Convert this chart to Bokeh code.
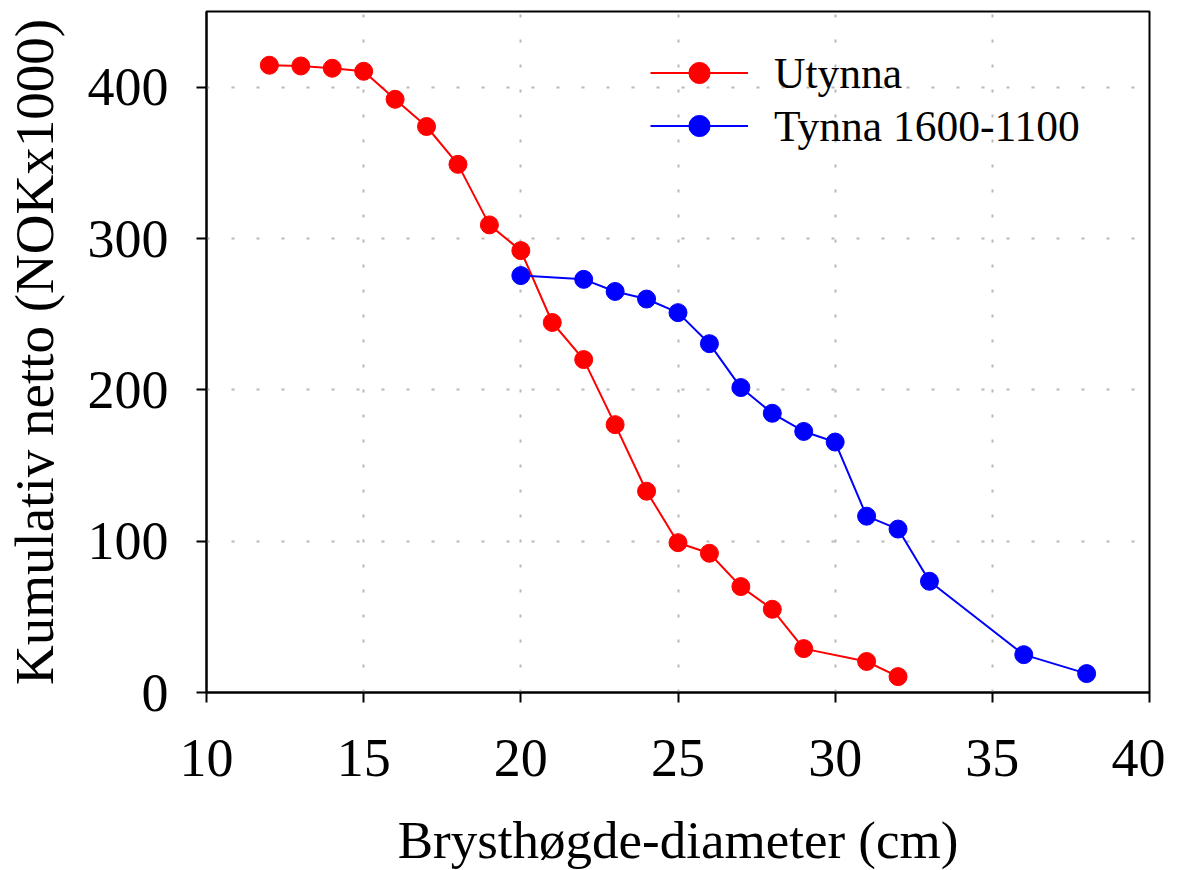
from bokeh.plotting import figure
from bokeh.models import Legend, LegendItem, FixedTicker
from bokeh.embed import file_html
from bokeh.resources import INLINE

# Data
diam_utynna = [12, 13, 14, 15, 16, 17, 18, 19, 20, 21, 22, 23, 24, 25, 26, 27, 28, 29, 31, 32]
netto_utynna = [414.5, 414, 412.5, 410.5, 392, 374, 349, 309, 292, 244.5, 220, 177, 133, 99, 92, 70, 55, 29, 20.5, 10.5]

diam_tynna = [20, 22, 23, 24, 25, 26, 27, 28, 29, 30, 31, 32, 33, 36, 38]
netto_tynna = [275.5, 273, 265, 260, 251, 230.5, 201.5, 184.5, 172.5, 165.5, 116.5, 108, 73.5, 25, 12.5]

x_ticks = [10, 15, 20, 25, 30, 35, 40]
y_ticks = [0, 100, 200, 300, 400]

FONT = "Liberation Serif"

p = figure(frame_width=943, frame_height=681,
           x_range=(10, 40), y_range=(0, 450),
           output_backend="svg", toolbar_location=None,
           min_border_left=204, min_border_right=16,
           min_border_top=11, min_border_bottom=162)

p.background_fill_color = "white"
p.border_fill_color = "white"
p.outline_line_color = "black"
p.outline_line_width = 2

for ax in (p.xaxis[0], p.yaxis[0]):
    ax.axis_line_width = 2
    ax.axis_line_color = "black"
    ax.major_tick_line_width = 2
    ax.major_tick_line_color = "black"
    ax.major_tick_out = 10
    ax.major_tick_in = 0
    ax.minor_tick_line_color = None
    ax.major_label_text_font = FONT
    ax.major_label_text_font_size = "54px"
    ax.major_label_text_color = "black"
    ax.axis_label_text_font = FONT
    ax.axis_label_text_font_style = "normal"
    ax.axis_label_text_color = "black"

p.xaxis[0].axis_label_text_font_size = "53px"
p.yaxis[0].axis_label_text_font_size = "55px"
p.xaxis[0].ticker = FixedTicker(ticks=x_ticks)
p.yaxis[0].ticker = FixedTicker(ticks=y_ticks)
p.xaxis[0].major_label_standoff = 37
p.yaxis[0].major_label_standoff = 28
p.xaxis[0].axis_label = "Brysthøgde-diameter (cm)"
p.yaxis[0].axis_label = "Kumulativ netto (NOKx1000)"
p.xaxis[0].axis_label_standoff = 32
p.yaxis[0].axis_label_standoff = 20

for g in (p.xgrid[0], p.ygrid[0]):
    g.grid_line_color = "#b8b8b8"
    g.grid_line_width = 2
    g.grid_line_dash = "3 22"
p.xgrid[0].ticker = FixedTicker(ticks=x_ticks)
p.ygrid[0].ticker = FixedTicker(ticks=y_ticks)

r_line = p.line(diam_utynna, netto_utynna, line_color="#ff0000", line_width=2)
r_pts = p.scatter(diam_utynna, netto_utynna, size=18, fill_color="#ff0000", line_color="#ff0000")
b_line = p.line(diam_tynna, netto_tynna, line_color="#0000ff", line_width=2)
b_pts = p.scatter(diam_tynna, netto_tynna, size=18, fill_color="#0000ff", line_color="#0000ff")

legend = Legend(items=[
    LegendItem(label="Utynna", renderers=[r_line, r_pts]),
    LegendItem(label="Tynna 1600-1100", renderers=[b_line, b_pts]),
], location=(444, 540))
legend.background_fill_alpha = 0
legend.border_line_color = None
legend.padding = 0
legend.margin = 0
legend.spacing = 0
legend.glyph_width = 98
legend.glyph_height = 53
legend.label_standoff = 26
legend.label_text_font = FONT
legend.label_text_font_size = "43.5px"
legend.label_text_color = "black"
legend.label_height = 53
p.add_layout(legend, "center")

open("out.html", "w").write(file_html(p, INLINE))
